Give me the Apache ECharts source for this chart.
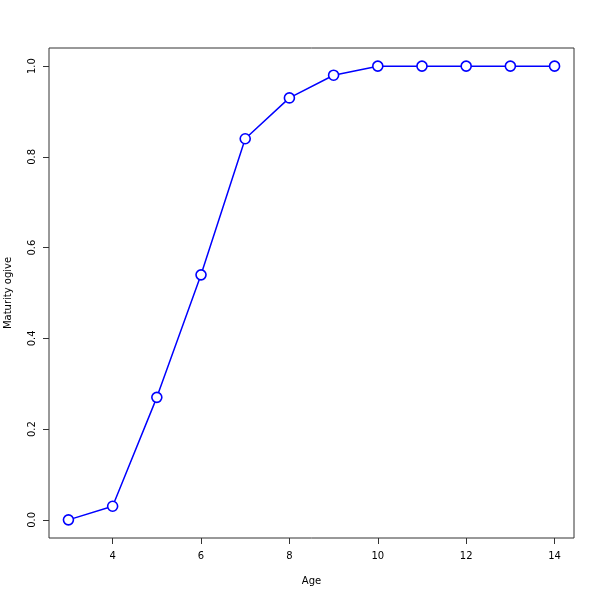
<!DOCTYPE html>
<html><head><meta charset="utf-8">
<script src="https://cdn.jsdelivr.net/npm/echarts@6/dist/echarts.min.js"></script>
<style>html,body{margin:0;padding:0;background:#fff}#c{width:600px;height:600px}</style>
</head><body><div id="c"></div>
<script>
const ages = [3,4,5,6,7,8,9,10,11,12,13,14];
const maturity = [0,0.03,0.27,0.54,0.84,0.93,0.98,1,1,1,1,1];
const xTicks = [4,6,8,10,12,14];
const yTicks = [0,0.2,0.4,0.6,0.8,1.0];

const chart = echarts.init(document.getElementById('c'), null, {renderer:'canvas'});
const font = {fontFamily:'DejaVu Sans', fontSize:10, color:'#000'};
chart.setOption({
  animation:false,
  backgroundColor:'#fff',
  grid:{left:49,right:26,top:48,bottom:62,containLabel:false,outerBoundsMode:'none',show:true,borderColor:'#333',borderWidth:1,backgroundColor:'transparent'},
  xAxis:{type:'value',min:2.56,max:14.44,
    name:'Age',nameLocation:'middle',nameGap:38,nameTextStyle:{...font},
    axisLine:{show:false,onZero:false},splitLine:{show:false},
    axisTick:{show:true,inside:false,length:6,lineStyle:{color:'#333'},customValues:xTicks},
    axisLabel:{...font,margin:13,customValues:xTicks,formatter:v=>String(v)}},
  yAxis:{type:'value',min:-0.04,max:1.04,
    name:'Maturity ogive',nameLocation:'middle',nameGap:36,nameRotate:90,nameTextStyle:{...font},
    axisLine:{show:false,onZero:false},splitLine:{show:false},
    axisTick:{show:true,inside:false,length:6,lineStyle:{color:'#333'},customValues:yTicks},
    axisLabel:{...font,rotate:90,margin:12,customValues:yTicks,formatter:v=>v.toFixed(1)}},
  series:[{type:'line',data:ages.map((a,i)=>[a,maturity[i]]),
    symbol:'circle',symbolSize:10,showAllSymbol:true,
    lineStyle:{color:'#0000ff',width:1.5},
    itemStyle:{color:'#fff',borderColor:'#0000ff',borderWidth:1.6}}]
});
</script></body></html>
